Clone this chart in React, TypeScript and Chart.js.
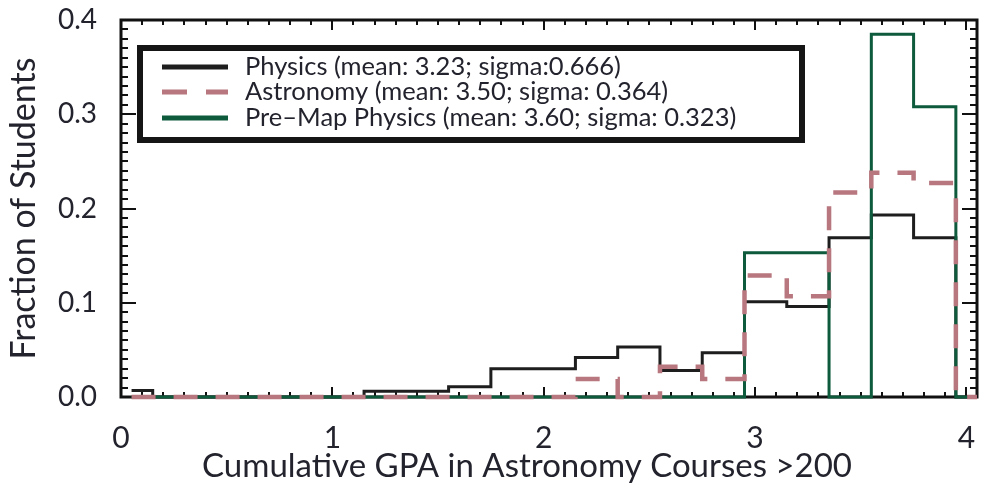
import { useEffect, useRef } from "react";
import { Chart, registerables } from "chart.js";

Chart.register(...registerables);

// ---- data ----
const binCenters = [0.05, 0.25, 0.45, 0.65, 0.85, 1.05, 1.25, 1.45, 1.65, 1.85, 2.05, 2.25, 2.45, 2.65, 2.85, 3.05, 3.25, 3.45, 3.65, 3.85, 4.05];
const physics = [0.007, 0, 0, 0, 0, 0, 0.006, 0.006, 0.011, 0.030, 0.030, 0.042, 0.053, 0.028, 0.047, 0.101, 0.096, 0.169, 0.193, 0.169, 0];
const astronomy = [0, 0, 0, 0, 0, 0, 0, 0, 0, 0, 0, 0.019, 0, 0.032, 0.019, 0.129, 0.107, 0.217, 0.238, 0.227, 0];
const preMap = [0, 0, 0, 0, 0, 0, 0, 0, 0, 0, 0, 0, 0, 0, 0, 0.153, 0.153, 0, 0.385, 0.308, 0];
const seriesLabels = [
  "Physics (mean: 3.23; sigma:0.666)",
  "Astronomy (mean: 3.50; sigma: 0.364)",
  "Pre\u2013Map Physics (mean: 3.60; sigma: 0.323)",
];
const xTickValues = [0, 1, 2, 3, 4];
const yTickValues = [0, 0.1, 0.2, 0.3, 0.4];
const xTitle = "Cumulative GPA in Astronomy Courses >200";
const yTitle = "Fraction of Students";

const FONT = "Lato, 'Open Sans', sans-serif";
const TEXT = "#23232e";
const BLACK = "#1e1e1e";
const PINK = "#b8777f";
const GREEN = "#0d5a3c";

const toPts = (ys: number[]) => ys.map((y, i) => ({ x: binCenters[i], y }));

const framePlugin = {
  id: "frameTicks",
  beforeDatasetsDraw(chart: any) {
    const { ctx, chartArea } = chart;
    const xs = chart.scales.x;
    const ys = chart.scales.y;
    const { left, right, top, bottom } = chartArea;
    ctx.save();
    ctx.strokeStyle = "#111";
    ctx.lineWidth = 2;
    ctx.lineCap = "butt";
    for (let i = 0; i <= 40; i++) {
      const v = i / 10;
      const px = Math.round(xs.getPixelForValue(v));
      const len = i % 10 === 0 ? 10 : 5;
      ctx.beginPath();
      ctx.moveTo(px, bottom);
      ctx.lineTo(px, bottom - len);
      ctx.moveTo(px, top);
      ctx.lineTo(px, top + len);
      ctx.stroke();
    }
    for (let i = 0; i <= 40; i++) {
      const v = i / 100;
      const py = Math.round(ys.getPixelForValue(v));
      const len = i % 10 === 0 ? 15 : 7;
      ctx.beginPath();
      ctx.moveTo(left, py);
      ctx.lineTo(left + len, py);
      ctx.moveTo(right, py);
      ctx.lineTo(right - len, py);
      ctx.stroke();
    }
    ctx.lineWidth = 3;
    ctx.strokeRect(left, top, right - left, bottom - top);
    ctx.restore();
  },
  afterDraw(chart: any) {
    const { ctx, chartArea } = chart;
    ctx.save();
    // x-axis title
    ctx.fillStyle = TEXT;
    ctx.font = `33px ${FONT}`;
    ctx.textAlign = "center";
    ctx.textBaseline = "alphabetic";
    ctx.fillText(xTitle, 527, 477);

    // legend box
    const bx = chartArea.left + 16;
    const by = chartArea.top + 25;
    const bw = 668;
    const bh = 98;
    ctx.fillStyle = "#ffffff";
    ctx.fillRect(bx, by, bw, bh);
    ctx.strokeStyle = "#151515";
    ctx.lineWidth = 6;
    ctx.strokeRect(bx + 3, by + 3, bw - 6, bh - 6);
    const rows = [
      { color: BLACK, dash: [] as number[] },
      { color: PINK, dash: [25, 19] },
      { color: GREEN, dash: [] as number[] },
    ];
    const rowOffsets = [22, 47, 73];
    rows.forEach((r, i) => {
      const y = by + rowOffsets[i];
      ctx.beginPath();
      ctx.setLineDash(r.dash);
      ctx.strokeStyle = r.color;
      ctx.lineWidth = 5;
      ctx.moveTo(bx + 25, y);
      ctx.lineTo(bx + 91, y);
      ctx.stroke();
      ctx.setLineDash([]);
      ctx.fillStyle = TEXT;
      ctx.font = `25.5px ${FONT}`;
      ctx.textAlign = "left";
      ctx.textBaseline = "middle";
      ctx.fillText(seriesLabels[i], bx + 108, y);
    });
    ctx.restore();
  },
};

const zeroPad = (s: any) => {
  s.paddingTop = 0;
  s.paddingBottom = 0;
  s.paddingLeft = 0;
  s.paddingRight = 0;
};

export default function App() {
  const ref = useRef<HTMLCanvasElement | null>(null);
  useEffect(() => {
    if (!ref.current) return;
    const chart = new Chart(ref.current, {
      type: "line",
      data: {
        datasets: [
          {
            label: seriesLabels[0],
            data: toPts(physics),
            borderColor: BLACK,
            borderWidth: 3,
            stepped: "middle",
            pointRadius: 0,
            fill: false,
            clip: false,
            order: 3,
          },
          {
            label: seriesLabels[1],
            data: toPts(astronomy),
            borderColor: PINK,
            borderWidth: 4.5,
            borderDash: [24, 18],
            stepped: "middle",
            pointRadius: 0,
            fill: false,
            clip: false,
            order: 1,
          },
          {
            label: seriesLabels[2],
            data: toPts(preMap),
            borderColor: GREEN,
            borderWidth: 3,
            stepped: "middle",
            pointRadius: 0,
            fill: false,
            clip: false,
            order: 2,
          },
        ],
      },
      options: {
        animation: false,
        responsive: true,
        maintainAspectRatio: false,
        layout: { padding: { top: 20, right: 5, left: 0, bottom: 0 } },
        plugins: { legend: { display: false }, tooltip: { enabled: false } },
        scales: {
          x: {
            type: "linear",
            min: 0,
            max: 4.05,
            afterBuildTicks: (s: any) => {
              s.ticks = xTickValues.map((v) => ({ value: v }));
            },
            afterFit: (s: any) => {
              s.height = 88;
              zeroPad(s);
            },
            ticks: {
              font: { size: 30, family: FONT },
              color: TEXT,
              padding: 15,
              maxRotation: 0,
              callback: (v: any) => String(v),
            },
            grid: { display: false },
            border: { display: false },
          },
          y: {
            type: "linear",
            min: 0,
            max: 0.4,
            afterBuildTicks: (s: any) => {
              s.ticks = yTickValues.map((v) => ({ value: v }));
            },
            afterFit: (s: any) => {
              s.width = 121;
              zeroPad(s);
            },
            ticks: {
              font: { size: 28, family: FONT },
              color: TEXT,
              padding: 16,
              callback: (v: any) => Number(v).toFixed(1),
            },
            title: {
              display: true,
              text: yTitle,
              font: { size: 34, family: FONT },
              color: TEXT,
              padding: { top: 4, bottom: 0 },
            },
            grid: { display: false },
            border: { display: false },
          },
        },
      },
      plugins: [framePlugin],
    });
    return () => chart.destroy();
  }, []);
  return (
    <div style={{ position: "absolute", left: 0, top: 0, width: 982, height: 485, background: "#fff" }}>
      <canvas ref={ref} />
    </div>
  );
}
